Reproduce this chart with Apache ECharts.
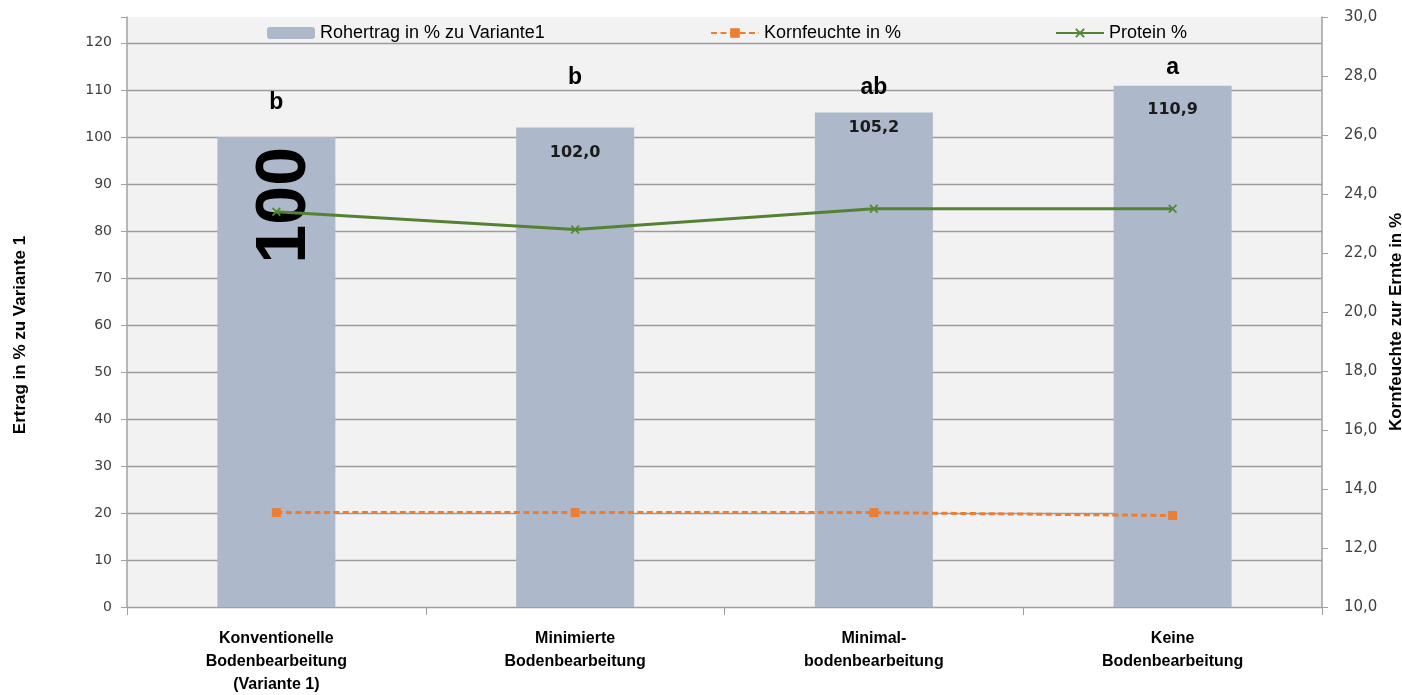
<!DOCTYPE html>
<html>
<head>
<meta charset="utf-8">
<script src="https://cdn.jsdelivr.net/npm/echarts@6/dist/echarts.min.js"></script>
<style>
  html, body { margin: 0; padding: 0; background: #ffffff; }
  #chart { width: 1402px; height: 695px; }
</style>
</head>
<body>
<div id="chart"></div>
<script>
// Tillage variants on the category axis
const categories = [
  'Konventionelle\nBodenbearbeitung\n(Variante 1)',
  'Minimierte\nBodenbearbeitung',
  'Minimal-\nbodenbearbeitung',
  'Keine\nBodenbearbeitung'
];
// Yield relative to variant 1 (%)
const rohertrag = [100, 102.0, 105.2, 110.9];
// Grain moisture at harvest (%)
const kornfeuchte = [13.2, 13.2, 13.2, 13.1];
// Protein content (%)
const protein = [23.4, 22.8, 23.5, 23.5];
// Significance letters and their height on the yield axis
const letters = ['b', 'b', 'ab', 'a'];
const letterY = [107.2, 112.6, 110.4, 114.8];
// Tick values of both value axes
const leftTicks = [0, 10, 20, 30, 40, 50, 60, 70, 80, 90, 100, 110, 120];
const rightTicks = [10, 12, 14, 16, 18, 20, 22, 24, 26, 28, 30];

const NAME_BAR = 'Rohertrag in % zu Variante1';
const NAME_MOIST = 'Kornfeuchte in %';
const NAME_PROT = 'Protein %';

// Gap between bar top and its value label
const labelDistance = [10, 17, 7, 16];

const AXIS_GREY = '#a0a0a0';
const textFont = 'Liberation Sans';

const xMark = 'path://M0,1.4 L1.4,0 L5,3.6 L8.6,0 L10,1.4 L6.4,5 L10,8.6 L8.6,10 L5,6.4 L1.4,10 L0,8.6 L3.6,5 Z';

const barData = rohertrag.map(function (v, i) {
  if (i === 0) {
    return {
      value: v,
      label: {
        show: true,
        position: 'insideTop',
        distance: labelDistance[i],
        rotate: 90,
        align: 'right',
        verticalAlign: 'middle',
        offset: [0, 9],
        fontFamily: textFont,
        fontWeight: 'bold',
        fontSize: 70,
        color: '#000',
        formatter: String(v)
      }
    };
  }
  return {
    value: v,
    label: {
      show: true,
      position: 'insideTop',
      distance: labelDistance[i],
      fontFamily: 'DejaVu Sans',
      fontWeight: 'bold',
      fontSize: 16,
      color: '#1a1a1a',
      formatter: v.toFixed(1).replace('.', ',')
    }
  };
});

function legendAt(left, name) {
  return {
    left: left,
    top: 19,
    data: [name],
    itemWidth: 48,
    itemHeight: 12,
    itemGap: 0,
    textStyle: { fontFamily: textFont, fontSize: 18, color: '#000' }
  };
}

const chart = echarts.init(document.getElementById('chart'), null, { renderer: 'canvas' });

chart.setOption({
  backgroundColor: '#ffffff',
  animation: false,
  legend: [
    legendAt(262, NAME_BAR),
    legendAt(705, NAME_MOIST),
    legendAt(1050, NAME_PROT)
  ],
  grid: {
    left: 127,
    right: 80,
    top: 17,
    bottom: 88,
    outerBoundsMode: 'none',
    containLabel: false,
    show: true,
    backgroundColor: '#f2f2f2',
    borderWidth: 0
  },
  xAxis: {
    type: 'category',
    data: categories,
    axisLine: { lineStyle: { color: AXIS_GREY, width: 1 } },
    axisTick: { show: true, length: 8, lineStyle: { color: AXIS_GREY } },
    axisLabel: {
      margin: 20,
      interval: 0,
      fontFamily: textFont,
      fontWeight: 'bold',
      fontSize: 16,
      lineHeight: 23,
      color: '#000'
    }
  },
  yAxis: [
    {
      type: 'value',
      position: 'left',
      min: 0,
      max: 125.5,
      interval: 10,
      name: 'Ertrag in % zu Variante 1',
      nameLocation: 'middle',
      nameRotate: 90,
      nameGap: 98,
      nameTextStyle: {
        fontFamily: textFont, fontWeight: 'bold', fontSize: 17, color: '#000',
        padding: [0, 46, 0, 0]
      },
      axisLine: { show: true, lineStyle: { color: AXIS_GREY, width: 1.5 } },
      axisTick: { show: true, length: 6, lineStyle: { color: AXIS_GREY } },
      axisLabel: {
        margin: 15,
        fontFamily: 'DejaVu Sans',
        fontSize: 14,
        color: '#404040',
        formatter: function (v) { return leftTicks.indexOf(v) >= 0 ? String(v) : ''; }
      },
      splitLine: { show: true, showMaxLine: false, lineStyle: { color: '#9c9c9c', width: 1.3 } }
    },
    {
      type: 'value',
      position: 'right',
      min: 10,
      max: 30,
      interval: 2,
      name: 'Kornfeuchte zur Ernte in %',
      nameLocation: 'middle',
      nameRotate: 90,
      nameGap: 54,
      nameTextStyle: {
        fontFamily: textFont, fontWeight: 'bold', fontSize: 17, color: '#000',
        padding: [0, 20, 0, 0]
      },
      axisLine: { show: true, lineStyle: { color: AXIS_GREY, width: 1.5 } },
      axisTick: { show: true, length: 6, lineStyle: { color: AXIS_GREY } },
      axisLabel: {
        margin: 22,
        fontFamily: 'DejaVu Sans',
        fontSize: 15,
        color: '#404040',
        formatter: function (v) {
          return rightTicks.indexOf(v) >= 0 ? v.toFixed(1).replace('.', ',') : '';
        }
      },
      splitLine: { show: false }
    }
  ],
  series: [
    {
      name: NAME_BAR,
      type: 'bar',
      yAxisIndex: 0,
      barWidth: '39.5%',
      itemStyle: { color: '#adb9ca' },
      data: barData,
      z: 2
    },
    {
      name: NAME_MOIST,
      type: 'line',
      yAxisIndex: 1,
      data: kornfeuchte,
      symbol: 'rect',
      symbolSize: 9,
      itemStyle: { color: '#ed7d31' },
      lineStyle: { color: '#ed7d31', width: 3, type: [6, 3.5] },
      z: 3
    },
    {
      name: NAME_PROT,
      type: 'line',
      yAxisIndex: 1,
      data: protein,
      symbol: xMark,
      symbolSize: 9,
      itemStyle: { color: '#4f8a2e' },
      lineStyle: { color: '#548235', width: 3 },
      z: 3
    },
    {
      // significance letters above the bars
      name: 'Signifikanz',
      type: 'scatter',
      yAxisIndex: 0,
      data: letterY,
      symbol: 'circle',
      symbolSize: 2,
      itemStyle: { color: 'rgba(0,0,0,0)' },
      silent: true,
      label: {
        show: true,
        position: 'inside',
        opacity: 1,
        fontFamily: textFont,
        fontWeight: 'bold',
        fontSize: 23,
        color: '#000',
        formatter: function (p) { return letters[p.dataIndex]; }
      },
      labelLayout: { hideOverlap: false },
      z: 4
    }
  ]
});
</script>
</body>
</html>
